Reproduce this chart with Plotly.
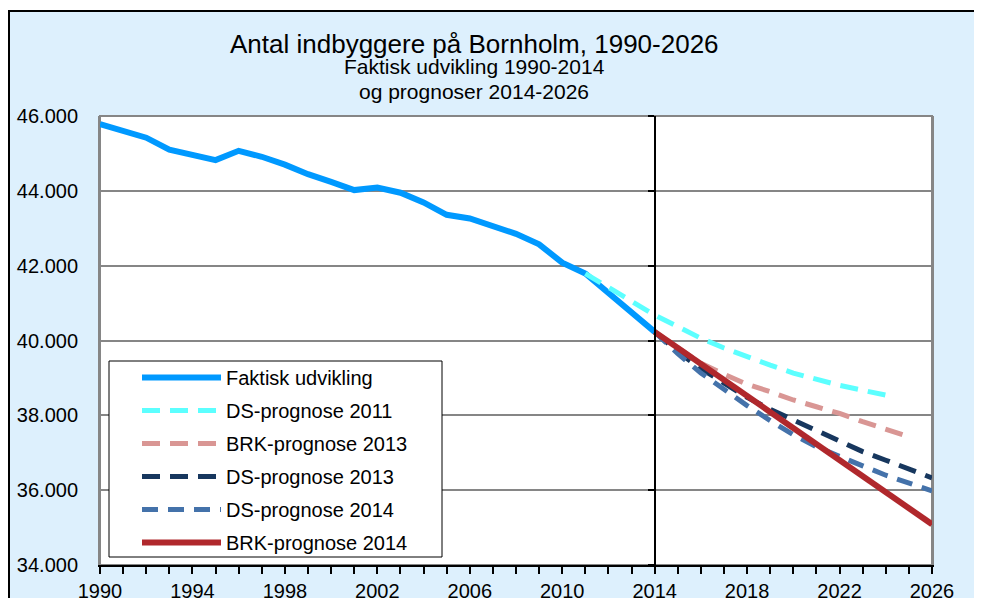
import plotly.graph_objects as go

# ---- data ----
years_actual = [1990, 1991, 1992, 1993, 1994, 1995, 1996, 1997, 1998, 1999, 2000, 2001, 2002,
                2003, 2004, 2005, 2006, 2007, 2008, 2009, 2010, 2011, 2012, 2013, 2014]
faktisk = [45780, 45600, 45420, 45100, 44970, 44820, 45070, 44910, 44700, 44445, 44240, 44020, 44090,
           43950, 43690, 43360, 43260, 43060, 42850, 42570, 42080, 41790, 41260, 40720, 40230]

years_ds2011 = [2011, 2012, 2013, 2014, 2015, 2016, 2017, 2018, 2019, 2020, 2021, 2022, 2023, 2024]
ds2011 = [41790, 41420, 41040, 40680, 40370, 40060, 39800, 39560, 39340, 39130, 38950, 38800, 38670, 38540]

years_brk2013 = [2014, 2015, 2016, 2017, 2018, 2019, 2020, 2021, 2022, 2023, 2024, 2025]
brk2013 = [40230, 39790, 39390, 39100, 38830, 38630, 38410, 38230, 38050, 37830, 37620, 37430]

years_fc = [2014, 2015, 2016, 2017, 2018, 2019, 2020, 2021, 2022, 2023, 2024, 2025, 2026]
ds2013 = [40230, 39700, 39250, 38870, 38480, 38160, 37870, 37590, 37290, 37030, 36800, 36580, 36330]
ds2014 = [40230, 39650, 39130, 38680, 38260, 37860, 37480, 37160, 36890, 36650, 36400, 36180, 35980]
brk2014 = [40230, 39800, 39360, 38930, 38500, 38080, 37650, 37220, 36790, 36370, 35950, 35520, 35090]

x_ticks = [1990, 1994, 1998, 2002, 2006, 2010, 2014, 2018, 2022, 2026]
x_range = [1990, 2026]
y_range = [34000, 46000]
divider_year = 2014

title = "Antal indbyggere på Bornholm, 1990-2026"
subtitle1 = "Faktisk udvikling 1990-2014"
subtitle2 = "og prognoser 2014-2026"

FONT = "Liberation Sans, Arial, sans-serif"

fig = go.Figure()

fig.add_trace(go.Scatter(x=years_actual, y=faktisk, mode="lines", name="Faktisk udvikling",
                         line=dict(color="#0099FF", width=6), legendgroup="a"))
fig.add_trace(go.Scatter(x=years_ds2011, y=ds2011, mode="lines", name="DS-prognose 2011",
                         line=dict(color="#5CFFFF", width=5, dash="18px,10px"), legendgroup="b"))
fig.add_trace(go.Scatter(x=years_brk2013, y=brk2013, mode="lines", name="BRK-prognose 2013",
                         line=dict(color="#D99694", width=5, dash="18px,10px"), legendgroup="c"))
fig.add_trace(go.Scatter(x=years_fc, y=ds2013, mode="lines", name="DS-prognose 2013",
                         line=dict(color="#17375E", width=5, dash="18px,10px"), legendgroup="d"))
fig.add_trace(go.Scatter(x=years_fc, y=ds2014, mode="lines", name="DS-prognose 2014",
                         line=dict(color="#4472AA", width=5, dash="16px,10px"), legendgroup="e"))
fig.add_trace(go.Scatter(x=years_fc, y=brk2014, mode="lines", name="BRK-prognose 2014",
                         line=dict(color="#B0282C", width=6), legendgroup="f", yaxis="y2"))

# The page body has an 8px margin; the figure is sized so it fills the window exactly.
OFF = 8
W, H = 974, 590
L, R, T, B = 92, 50, 108, 33
pw, ph = W - L - R, H - T - B


def px_x(p):  # reference-window pixel -> paper fraction
    return (p - OFF - L) / pw


def px_y(p):
    return (H - B - (p - OFF)) / ph


fig.update_layout(
    template="none",
    width=W, height=H,
    margin=dict(l=L, r=R, t=T, b=B, pad=0),
    paper_bgcolor="white",
    plot_bgcolor="white",
    separators=",.",
    font=dict(family=FONT, color="black", size=20),
    hovermode=False,
    showlegend=True,
    legend=dict(
        x=px_x(137), y=px_y(358), xanchor="left", yanchor="top",
        bgcolor="rgba(0,0,0,0)", borderwidth=0,
        font=dict(size=20, family=FONT, color="black"),
        itemwidth=79, tracegroupgap=4, traceorder="grouped",
    ),
    xaxis=dict(
        range=x_range, tickvals=x_ticks, ticks="outside", ticklen=7, tickwidth=1.5,
        tickcolor="black", showgrid=False, zeroline=False, automargin=False,
        showline=True, linecolor="black", linewidth=1.5,
        tickfont=dict(size=20, family=FONT, color="black"),
        minor=dict(dtick=1, ticks="outside", ticklen=7, tickwidth=1.5, tickcolor="black", showgrid=False),
    ),
    yaxis=dict(
        range=y_range, dtick=2000, tickformat=",.0f", ticks="", automargin=False,
        showgrid=True, gridcolor="#868686", gridwidth=1.5, zeroline=False,
        showline=True, linecolor="#868686", linewidth=2, mirror=True,
        tickfont=dict(size=20, family=FONT, color="black"),
        ticklabelstandoff=16,
    ),
    yaxis2=dict(
        range=y_range, dtick=2000, overlaying="y", anchor="free", automargin=False,
        position=(divider_year - x_range[0]) / (x_range[1] - x_range[0]),
        side="left", showticklabels=False, ticks="outside", ticklen=6, tickwidth=1.5,
        tickcolor="black", showline=True, linecolor="black", linewidth=1.5,
        showgrid=False, zeroline=False,
    ),
    shapes=[
        dict(type="rect", xref="paper", yref="paper",
             x0=px_x(9), x1=px_x(977), y0=px_y(660), y1=px_y(11),
             fillcolor="#DDF0FD", line=dict(color="black", width=2), layer="below"),
        dict(type="rect", xref="paper", yref="paper",
             x0=0, x1=1, y0=0, y1=1,
             fillcolor="white", line=dict(color="#868686", width=2), layer="below"),
        # legend frame
        dict(type="rect", xref="paper", yref="paper",
             x0=px_x(109), x1=px_x(442), y0=px_y(557), y1=px_y(361),
             fillcolor="white", line=dict(color="black", width=1), layer="above"),
    ],
    annotations=[
        dict(text=title, xref="paper", yref="paper", x=px_x(474), y=px_y(44),
             xanchor="center", yanchor="middle", showarrow=False,
             font=dict(size=26, family=FONT, color="black")),
        dict(text=subtitle1, xref="paper", yref="paper", x=px_x(474), y=px_y(67),
             xanchor="center", yanchor="middle", showarrow=False,
             font=dict(size=21, family=FONT, color="black")),
        dict(text=subtitle2, xref="paper", yref="paper", x=px_x(474), y=px_y(91),
             xanchor="center", yanchor="middle", showarrow=False,
             font=dict(size=21, family=FONT, color="black")),
    ],
)

fig.write_html("out.html")
